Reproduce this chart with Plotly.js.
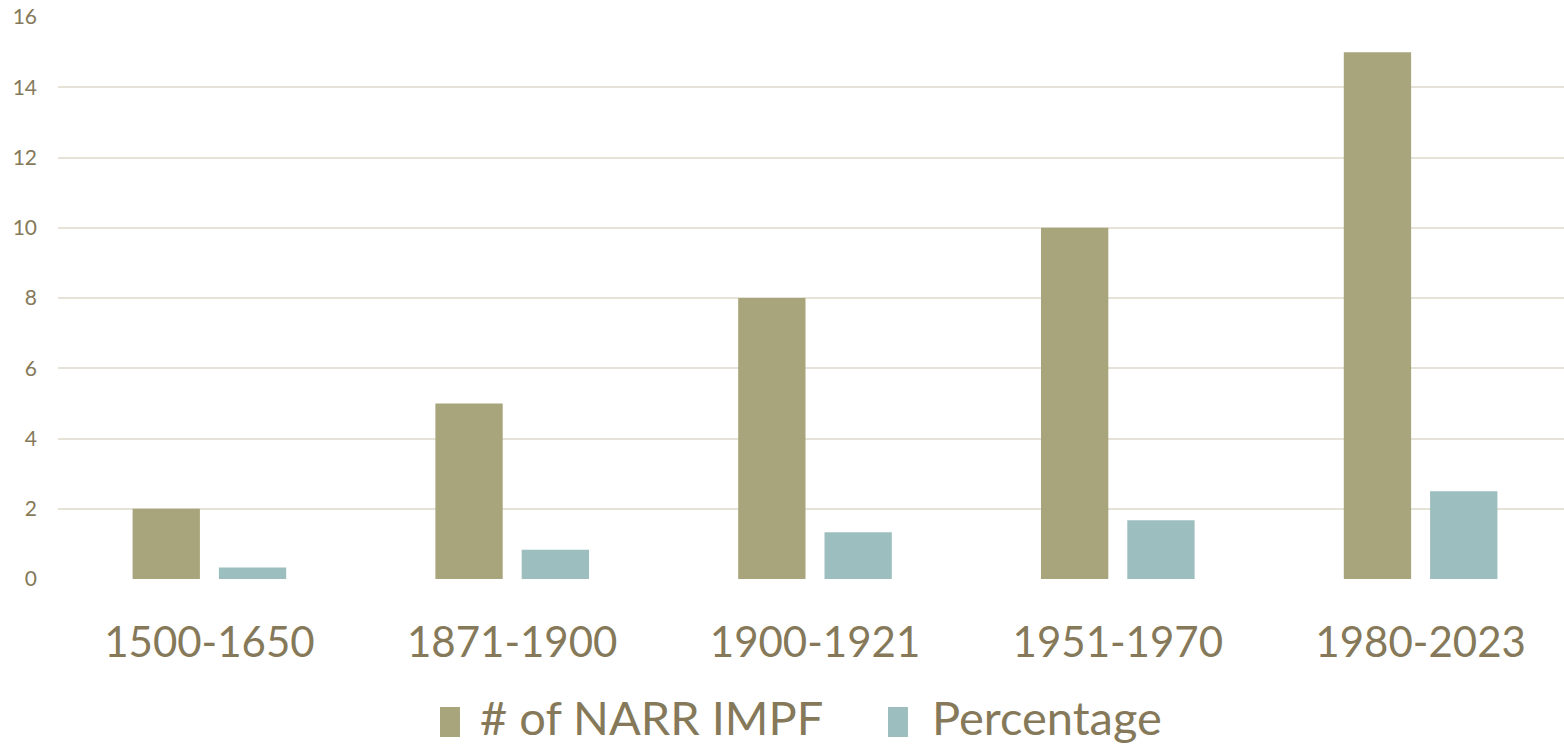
<!DOCTYPE html>
<html>
<head>
<meta charset="utf-8">
<script src="https://cdn.plot.ly/plotly-3.0.1.min.js"></script>
<style>html,body{margin:0;padding:0;background:#fff;overflow:hidden;}#chart{width:1572px;height:749px;}</style>
</head>
<body>
<div id="chart"></div>
<script>
const categories = ["1500-1650", "1871-1900", "1900-1921", "1951-1970", "1980-2023"];
const narrImpf = [2, 5, 8, 10, 15];
const percentage = [0.33, 0.83, 1.33, 1.67, 2.5];
const yTicks = [0, 2, 4, 6, 8, 10, 12, 14, 16];
const seriesNames = ["# of NARR IMPF", "Percentage"];
const seriesColors = ["#A8A47B", "#9DBEBE"];

const textColor = "#857959";
const fontFamily = "Lato, 'Open Sans', sans-serif";

const traces = [
  {type: "bar", name: seriesNames[0], x: categories, y: narrImpf,
   marker: {color: seriesColors[0]}, showlegend: false},
  {type: "bar", name: seriesNames[1], x: categories, y: percentage,
   marker: {color: seriesColors[1]}, showlegend: false}
];

// Custom legend (large swatches like the reference)
const legendSwatchX = [0.2523, 0.5482];
const legendTextX = [0.2774, 0.5760];
const shapes = seriesNames.map((n, i) => ({
  type: "rect", xref: "paper", yref: "paper",
  x0: legendSwatchX[i], x1: legendSwatchX[i] + 0.0132,
  y0: -0.2811, y1: -0.2278,
  fillcolor: seriesColors[i], line: {width: 0}
}));
const annotations = seriesNames.map((n, i) => ({
  xref: "paper", yref: "paper", x: legendTextX[i], y: -0.246,
  xanchor: "left", yanchor: "middle", showarrow: false, text: n,
  font: {size: 47, color: textColor, family: fontFamily}
}));

const layout = {
  width: 1572, height: 749,
  margin: {l: 58, r: 0, t: 17, b: 170},
  paper_bgcolor: "#ffffff", plot_bgcolor: "#ffffff",
  barmode: "group", bargap: 0.43, bargroupgap: 0.22,
  font: {family: fontFamily, color: textColor},
  xaxis: {
    type: "category",
    tickfont: {size: 42, color: textColor, family: fontFamily},
    showgrid: false, zeroline: false, showline: false, ticks: "",
    ticklabelstandoff: 35
  },
  yaxis: {
    range: [0, 16], tickvals: yTicks, ticktext: yTicks.map(String),
    tickfont: {size: 21, color: textColor, family: fontFamily},
    showgrid: true, gridcolor: "#E6E2D8", gridwidth: 2,
    zeroline: false, showline: false, ticks: "",
    ticklabelstandoff: 20
  },
  showlegend: false,
  shapes: shapes,
  annotations: annotations
};

Plotly.newPlot("chart", traces, layout, {displayModeBar: false, staticPlot: true});
</script>
</body>
</html>
